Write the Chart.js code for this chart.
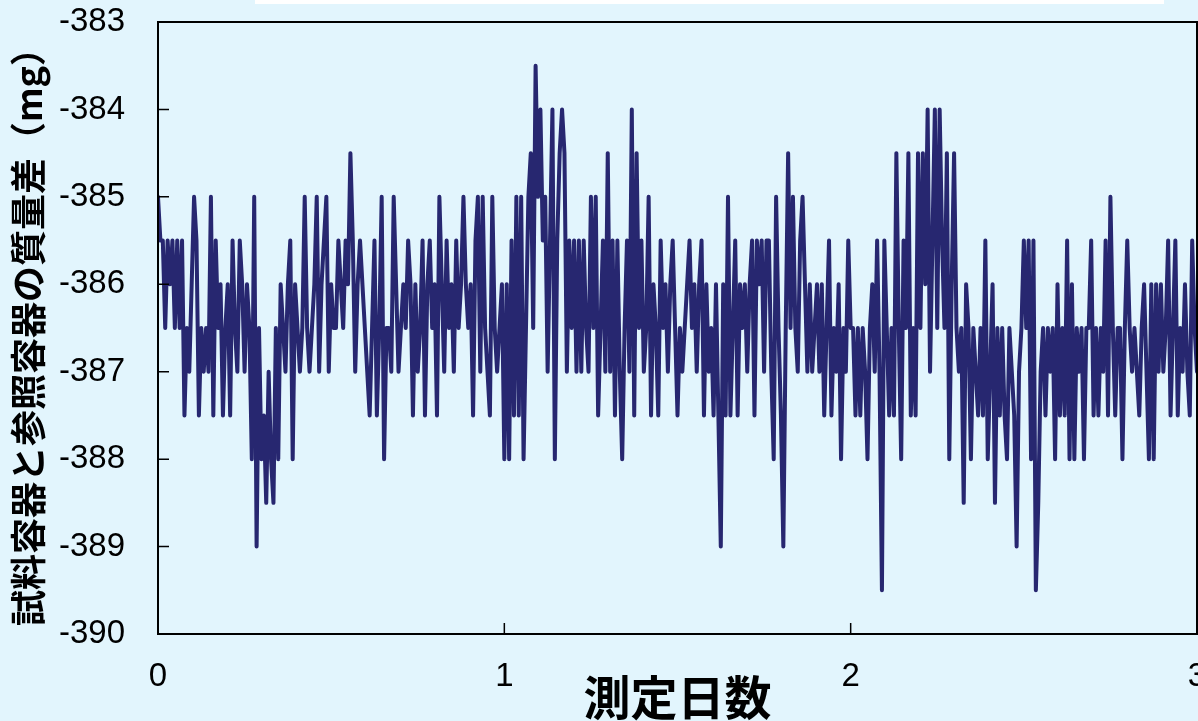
<!DOCTYPE html>
<html>
<head>
<meta charset="utf-8">
<script src="https://cdn.jsdelivr.net/npm/chart.js@4.4.1/dist/chart.umd.min.js"></script>
<style>
  body { margin: 0; background: #e2f5fd; }
  #wrap { position: relative; width: 1198px; height: 721px; }
  #massChart { display: block; }
  #topBox { position: absolute; left: 255px; top: 0; width: 909px; height: 4px; background: #fff; }
</style>
</head>
<body>
<div id="wrap">
  <canvas id="massChart" width="1198" height="721"></canvas>
  <div id="topBox"></div>
</div>
<script>
// one reading every 10 minutes -> 144 per day
const SAMPLES_PER_DAY = 144;

// mass difference (mg), day 0 - 1
const massDay1 = [
  -385, -385.5, -385.5, -386.5, -385.5, -386, -385.5, -386.5, -385.5, -386.5,
  -385.5, -387.5, -386.5, -387, -386, -385, -385.5, -387.5, -386.5, -387,
  -386.5, -387, -385, -387.5, -385.5, -386.5, -386, -387.5, -386.5, -386,
  -387.5, -385.5, -386.5, -387, -385.5, -386, -387, -386, -386.5, -388,
  -385, -389, -386.5, -388, -387.5, -388.5, -387, -388, -388.5, -386.5,
  -388, -386, -386.5, -387, -386, -385.5, -388, -386, -386.5, -387,
  -386.5, -385, -386.5, -387, -386.5, -386, -385, -387, -386, -385.5,
  -385, -387, -386, -386.5,
  -386.5, -385.5, -386, -386.5, -385.5, -386, -384.5, -385.5, -387, -386,
  -385.5, -386, -386.5, -387, -387.5, -386.5, -385.5, -387.5, -386.5, -385,
  -388, -386.5, -386.5, -387, -385, -386, -387, -386.5, -386, -386.5,
  -385.5, -386, -387.5, -386, -387, -386.5, -385.5, -387.5, -386, -385.5,
  -386.5, -386, -387.5, -385, -386, -387, -385.5, -386.5, -386, -387,
  -385.5, -386.5, -386, -385, -386, -386.5, -386, -387.5, -385.5, -385,
  -387, -385, -386.5, -387, -387.5, -385, -386.5, -387, -386.5, -386
];

// day 1 - 2
const massDay2 = [
  -388, -386,
  -388, -385.5, -387.5, -385, -387.5, -385, -388, -386.5, -385, -384.5,
  -386.5, -383.5, -385, -384, -385.5, -385, -387, -385.5, -384, -388,
  -385.5, -384.5, -384, -384.5, -387, -385.5, -386.5, -385.5, -387, -385.5,
  -387, -385.5, -386.5, -387, -385, -386.5, -385, -387.5, -386.5, -385.5,
  -387, -384.5, -387, -385.5, -387.5, -385.5, -387, -388, -386.5, -385.5,
  -387, -384, -387.5, -384.5, -386.5, -385.5, -387, -386.5, -385, -387.5,
  -386, -386.5, -387.5, -385.5, -386.5, -386, -387, -386, -385.5, -386.5,
  -387.5, -386.5,
  -387, -386.5, -386, -385.5, -386.5, -386, -387, -386, -385.5, -387.5,
  -386, -387, -386.5, -387.5, -386, -387.5, -389, -386, -387.5, -385,
  -387.5, -386.5, -385.5, -387.5, -386, -386.5, -386, -387, -386, -385.5,
  -387.5, -385.5, -386, -385.5, -387, -385.5, -385.5, -387, -388, -385,
  -386.5, -387.5, -389, -386.5, -384.5, -386.5, -385, -386.5, -387, -385.5,
  -385, -386, -387, -386, -387, -386.5, -386, -387, -386, -387.5,
  -386.5, -385.5, -387.5, -386.5, -387, -386, -388, -386.5, -387, -385.5
];

// day 2 - 3
const massDay3 = [
  -386.5,
  -386.5, -387.5, -386.5, -387.5, -386.5, -387, -388, -386.5, -386, -387,
  -385.5, -387, -389.5, -385.5, -386.5, -387.5, -386.5, -387.5, -384.5, -386.5,
  -388, -385.5, -386.5, -384.5, -387.5, -386.5, -387.5, -384.5, -386.5, -384.5,
  -386, -384, -387, -385.5, -384, -386.5, -384, -385.5, -386.5, -384.5,
  -388, -386, -384.5, -386.5, -387, -386.5, -388.5, -386, -386.5, -388,
  -386.5, -387, -387.5, -386.5, -387.5, -385.5, -388, -387, -386, -388.5,
  -386.5, -387.5, -386.5, -387.5, -388, -386.5, -387, -387.5, -389, -387,
  -386.5, -385.5,
  -386.5, -385.5, -388, -385.5, -389.5, -388.5, -387, -386.5, -387.5, -386.5,
  -387, -386.5, -388, -386, -387.5, -386.5, -387.5, -385.5, -388, -386,
  -388, -386.5, -387, -386.5, -388, -386.5, -386.5, -385.5, -387.5, -386.5,
  -387.5, -386.5, -387, -385.5, -387.5, -385, -386.5, -387.5, -386.5, -386.5,
  -388, -386.5, -385.5, -386.5, -387, -386.5, -387, -387.5, -386.5, -386,
  -387, -388, -386, -388, -386, -387, -386, -387, -386.5, -385.5,
  -387.5, -386.5, -385.5, -387.5, -386.5, -387, -386, -387, -387.5, -385.5,
  -386.5, -387
];

const xTicks = [0, 1, 2, 3];
const yTicks = [-390, -389, -388, -387, -386, -385, -384, -383];

const xTitle = "測定日数";
const yTitle = "試料容器と参照容器の質量差（mg）";

const allReadings = [...massDay1, ...massDay2, ...massDay3];
const points = allReadings.map((v, i) => ({ x: i / SAMPLES_PER_DAY, y: v }));

const tickFont = { family: "'Liberation Sans', Arial, sans-serif", size: 33 };

// fixed box sizes, no automatic label padding
function fixBox(w, h) {
  return (s) => {
    if (w) s.width = w;
    if (h) s.height = h;
    s.paddingLeft = 0;
    s.paddingRight = 0;
    s.paddingTop = 0;
    s.paddingBottom = 0;
  };
}

// black frame round the plot and short inward ticks
const frameAndTicks = {
  id: "frameAndTicks",
  afterDatasetsDraw(chart) {
    const { ctx, chartArea: a, scales } = chart;
    ctx.save();
    ctx.strokeStyle = "#000";
    ctx.lineWidth = 2;
    ctx.strokeRect(a.left, a.top, a.right - a.left, a.bottom - a.top);
    ctx.lineWidth = 1.5;
    ctx.beginPath();
    yTicks.slice(1, -1).forEach((v) => {
      const py = scales.y.getPixelForValue(v);
      ctx.moveTo(a.left, py);
      ctx.lineTo(a.left + 11, py);
    });
    xTicks.slice(1, -1).forEach((v) => {
      const px = scales.x.getPixelForValue(v);
      ctx.moveTo(px, a.bottom);
      ctx.lineTo(px, a.bottom - 11);
    });
    ctx.stroke();
    ctx.restore();
  },
};

new Chart(document.getElementById("massChart").getContext("2d"), {
  type: "line",
  data: {
    datasets: [
      {
        data: points,
        borderColor: "#272770",
        borderWidth: 4,
        borderJoinStyle: "round",
        borderCapStyle: "round",
        pointRadius: 0,
        tension: 0,
      },
    ],
  },
  options: {
    responsive: false,
    animation: false,
    layout: { padding: { top: 22, right: 1, left: 0, bottom: 0 } },
    plugins: { legend: { display: false }, tooltip: { enabled: false } },
    scales: {
      x: {
        type: "linear",
        min: 0,
        max: 3,
        afterBuildTicks: (s) => { s.ticks = xTicks.map((v) => ({ value: v })); },
        ticks: { color: "#000", font: tickFont, padding: 15, maxRotation: 0, autoSkip: false },
        grid: { display: false },
        border: { display: false },
        title: {
          display: true,
          text: xTitle,
          color: "#000",
          font: { family: "'Noto Sans CJK JP', sans-serif", size: 47, weight: "bold", lineHeight: 1 },
          padding: 0,
        },
        afterFit: fixBox(0, 87),
      },
      y: {
        min: -390,
        max: -383,
        afterBuildTicks: (s) => { s.ticks = yTicks.map((v) => ({ value: v })); },
        ticks: { color: "#000", font: tickFont, padding: 25 },
        grid: { display: false },
        border: { display: false },
        title: {
          display: true,
          text: yTitle,
          color: "#000",
          font: { family: "'Noto Sans CJK JP', sans-serif", size: 36, weight: "bold", lineHeight: 1 },
          padding: { top: 10, bottom: 0 },
        },
        afterFit: fixBox(158, 0),
      },
    },
  },
  plugins: [frameAndTicks],
});
</script>
</body>
</html>
